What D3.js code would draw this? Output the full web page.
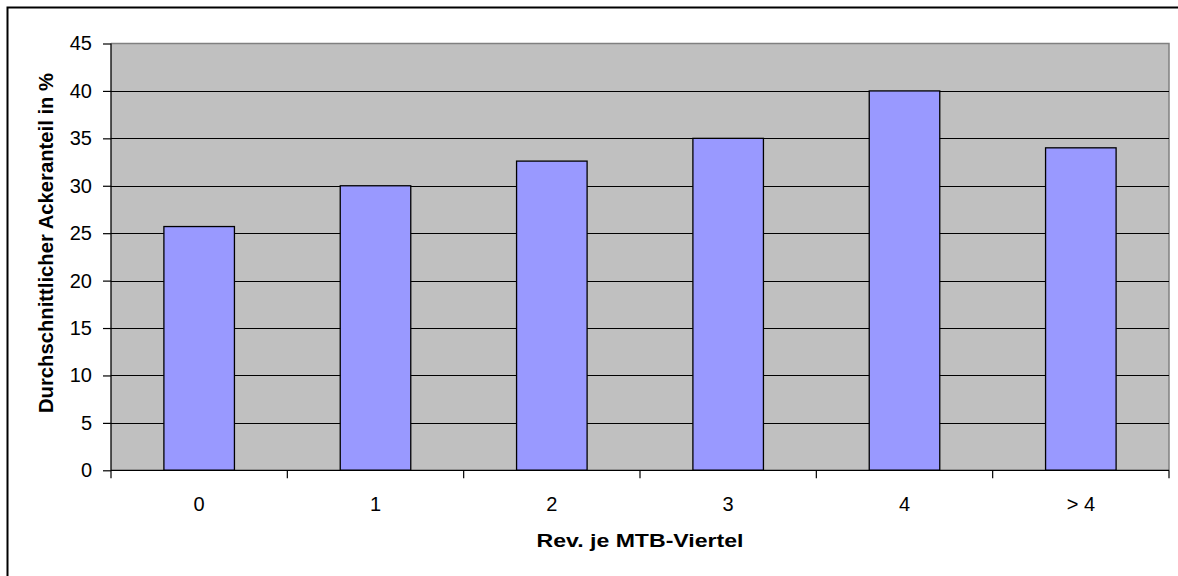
<!DOCTYPE html>
<html><head><meta charset="utf-8">
<script src="https://cdn.jsdelivr.net/npm/d3@7"></script>
<style>body{margin:0;background:#fff}svg{display:block}</style>
</head><body>
<svg id="c" width="1178" height="576"></svg>
<script>
const categories = ["0","1","2","3","4","> 4"];
const values = [25.7, 30, 32.6, 35, 40, 34];
const yTicks = [0,5,10,15,20,25,30,35,40,45];
const yTitle = "Durchschnittlicher Ackeranteil in %";
const xTitle = "Rev. je MTB-Viertel";

const svg = d3.select("#c");
const font = "'Liberation Sans', Arial, sans-serif";
const L = 111, R = 1169, T = 43.5, B = 470.3;

svg.append("rect").attr("x",7.5).attr("y",7.5).attr("width",1300).attr("height",700)
  .attr("fill","#fff").attr("stroke","#000").attr("stroke-width",2);

const x = d3.scaleBand().domain(categories).range([L,R]).paddingInner(0.6).paddingOuter(0.3);
const xb = d3.scaleBand().domain(categories).range([L,R]);
const y = d3.scaleLinear().domain([0,45]).range([B,T]);

svg.append("rect").attr("x",L).attr("y",T).attr("width",R-L).attr("height",B-T).attr("fill","#c0c0c0");
svg.append("path").attr("d",`M${L},${T}H${R}V${B}`).attr("fill","none").attr("stroke","#808080").attr("stroke-width",1.5);

svg.append("g").selectAll("line").data(yTicks.filter(d=>d>0 && d<45)).join("line")
  .attr("x1",L).attr("x2",R).attr("y1",d=>Math.round(y(d))+0.5).attr("y2",d=>Math.round(y(d))+0.5)
  .attr("stroke","#000").attr("stroke-width",1.2);

svg.append("g").selectAll("rect").data(categories).join("rect")
  .attr("x",d=>x(d)).attr("width",x.bandwidth())
  .attr("y",(d,i)=>y(values[i])).attr("height",(d,i)=>B-y(values[i]))
  .attr("fill","#9999ff").attr("stroke","#000").attr("stroke-width",1.3);

// y axis
const ya = svg.append("g").attr("transform",`translate(${L},0)`)
  .call(d3.axisLeft(y).tickValues(yTicks).tickSize(8).tickPadding(11));
ya.select(".domain").attr("stroke","#000").attr("stroke-width",1.3).attr("d",`M0,${T}V${B}`);
ya.selectAll(".tick line").attr("stroke","#000").attr("stroke-width",1.2);
ya.selectAll(".tick text").attr("font-family",font).attr("font-size",20).attr("fill","#000");

// x axis
const xa = svg.append("g").attr("transform",`translate(0,${B})`)
  .call(d3.axisBottom(xb).tickSize(0).tickPadding(27));
xa.select(".domain").attr("stroke","#000").attr("stroke-width",1.3).attr("d",`M${L},0H${R}`);
xa.selectAll(".tick text").attr("font-family",font).attr("font-size",20).attr("fill","#000");
const bounds = categories.map(c=>xb(c)).concat([R]);
xa.append("g").selectAll("line").data(bounds).join("line")
  .attr("x1",d=>d).attr("x2",d=>d).attr("y1",0).attr("y2",8).attr("stroke","#000").attr("stroke-width",1.2);

svg.append("text").attr("x",(L+R)/2).attr("y",546.5).attr("text-anchor","middle")
  .attr("font-family",font).attr("font-size",19).attr("font-weight","bold")
  .attr("textLength",207).attr("lengthAdjust","spacingAndGlyphs").text(xTitle);
svg.append("text").attr("transform",`translate(53,243) rotate(-90)`).attr("text-anchor","middle")
  .attr("font-family",font).attr("font-size",20).attr("font-weight","bold")
  .attr("textLength",340).attr("lengthAdjust","spacingAndGlyphs").text(yTitle);
</script>
</body></html>
